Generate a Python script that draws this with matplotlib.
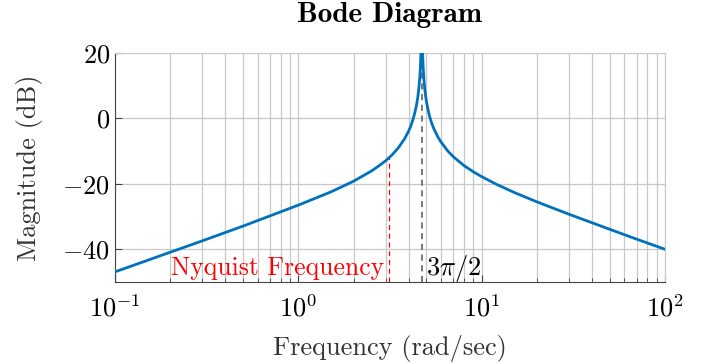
import numpy as np
import matplotlib
matplotlib.use("Agg")
import matplotlib.pyplot as plt
from matplotlib.ticker import LogLocator, NullFormatter

plt.rcParams['font.family'] = 'serif'
plt.rcParams['font.serif'] = ['cmr10']
plt.rcParams['mathtext.fontset'] = 'cm'
plt.rcParams['axes.formatter.use_mathtext'] = True
plt.rcParams['axes.unicode_minus'] = True

# magnitude (rad/sec, dB)
freq = [0.1, 0.15, 0.2, 0.3, 0.5, 0.7, 1.0, 1.5, 2.0, 2.5, 2.75, 3.0, 3.25,
        3.5, 3.8, 4.0, 4.1, 4.2, 4.3, 4.4, 4.45, 4.5, 4.55, 4.58, 4.6, 4.62,
        4.65, 4.67, 4.68, 4.712, 4.75, 4.76, 4.78, 4.8, 4.85, 4.9, 4.95, 5.0,
        5.1, 5.2, 5.35, 5.5, 5.8, 6.0, 6.5, 7.0, 8.0, 9.0, 10.0, 12.0, 15.0,
        20.0, 30.0, 50.0, 70.0, 100.0]
mag = [-46.9, -43.4, -40.9, -37.4, -32.9, -29.8, -26.5, -22.5, -19.2, -16.1,
       -14.5, -12.9, -11.1, -9.1, -6.2, -3.8, -2.4, -0.7, 1.3, 3.8, 5.3, 7.2,
       9.6, 11.4, 12.8, 14.5, 18.0, 21.3, 23.6, 40.0, 22.6, 20.5, 17.5, 15.2,
       11.4, 8.7, 6.7, 5.1, 2.6, 0.6, -1.6, -3.3, -5.9, -7.2, -9.8, -11.7,
       -14.4, -16.3, -17.8, -20.1, -22.6, -25.5, -29.3, -33.9, -36.9, -40.0]

nyq_freq = np.pi
nyq_mag = -12.0
peak_freq = 3 * np.pi / 2

fig = plt.figure(figsize=(7.1, 3.64), dpi=100)
ax = fig.add_axes([0.162, 0.2253, 0.7746, 0.6291])

ax.semilogx(freq, mag, color='#0072BD', linewidth=2, zorder=3)
ax.plot([nyq_freq, nyq_freq], [-50, nyq_mag], color='red', linestyle=(0, (4, 3)), linewidth=0.9, zorder=2)
ax.plot([peak_freq, peak_freq], [-50, 20], color='#555555', linestyle=(0, (4, 3)), linewidth=1.1, zorder=2)

ax.text(2.95, -47.8, 'Nyquist Frequency', color='red', fontsize=18.5, ha='right', va='baseline')
ax.text(5.0, -47.8, r'$3\pi/2$', color='black', fontsize=19, ha='left', va='baseline')

ax.set_xlim(0.1, 100)
ax.set_ylim(-50, 20)
ax.set_yticks([-40, -20, 0, 20])
ax.xaxis.set_major_locator(LogLocator(base=10, numticks=10))
ax.xaxis.set_minor_locator(LogLocator(base=10, subs=np.arange(2, 10), numticks=10))
ax.xaxis.set_minor_formatter(NullFormatter())

ax.grid(True, which='major', color='#c8c8c8', linewidth=0.9)
ax.grid(True, which='minor', axis='x', color='#c8c8c8', linewidth=0.9)
ax.set_axisbelow(True)

ax.tick_params(which='both', direction='in', top=False, right=False, labelsize=19, color='#444444')
ax.tick_params(which='major', length=5)
ax.tick_params(which='minor', length=3)
ax.tick_params(axis='x', pad=9)

for side in ['left', 'bottom']:
    ax.spines[side].set_color('#444444')
for side in ['top', 'right']:
    ax.spines[side].set_color('#c8c8c8')

ax.set_xlabel('Frequency (rad/sec)', fontsize=19, color='#333333', labelpad=10)
ax.set_ylabel('Magnitude (dB)', fontsize=19, color='#333333', labelpad=14)
ax.set_title('Bode Diagram', fontsize=21, fontfamily='cmb10', pad=22)

fig.savefig('out.png', dpi=100)
